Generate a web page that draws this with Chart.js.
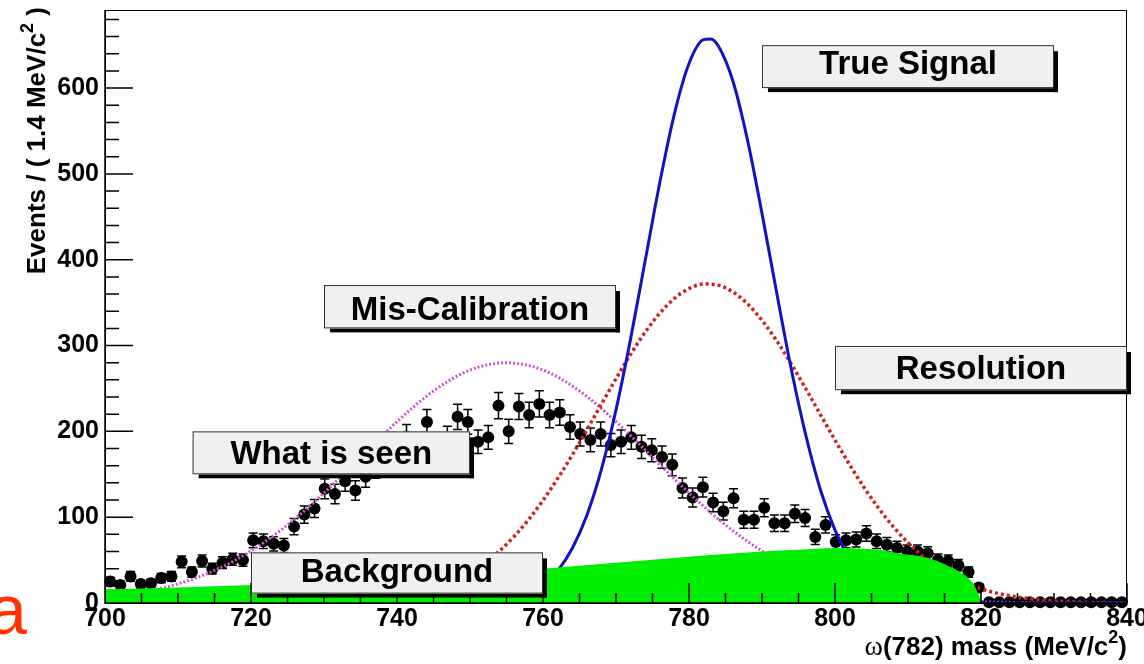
<!DOCTYPE html>
<html>
<head>
<meta charset="utf-8">
<title>ω(782) mass</title>
<script src="https://cdn.jsdelivr.net/npm/chart.js@4.4.1/dist/chart.umd.min.js"></script>
<style>
  html, body { margin: 0; padding: 0; background: #ffffff; }
  canvas { display: block; }
</style>
</head>
<body>
<canvas id="plot" width="1144" height="664"></canvas>
<script>
// ---- binned data: ω(782) candidates, 1.4 MeV bins from 700 to 840 MeV ----
const binCenters = [
  700.7, 702.1, 703.5, 704.9, 706.3, 707.7, 709.1, 710.5, 711.9, 713.3,
  714.7, 716.1, 717.5, 718.9, 720.3, 721.7, 723.1, 724.5, 725.9, 727.3,
  728.7, 730.1, 731.5, 732.9, 734.3, 735.7, 737.1, 738.5, 739.9, 741.3,
  742.7, 744.1, 745.5, 746.9, 748.3, 749.7, 751.1, 752.5, 753.9, 755.3,
  756.7, 758.1, 759.5, 760.9, 762.3, 763.7, 765.1, 766.5, 767.9, 769.3,
  770.7, 772.1, 773.5, 774.9, 776.3, 777.7, 779.1, 780.5, 781.9, 783.3,
  784.7, 786.1, 787.5, 788.9, 790.3, 791.7, 793.1, 794.5, 795.9, 797.3,
  798.7, 800.1, 801.5, 802.9, 804.3, 805.7, 807.1, 808.5, 809.9, 811.3,
  812.7, 814.1, 815.5, 816.9, 818.3, 819.7, 821.1, 822.5, 823.9, 825.3,
  826.7, 828.1, 829.5, 830.9, 832.3, 833.7, 835.1, 836.5, 837.9, 839.3
];
const seenCounts = [
  25, 21, 31, 22, 23, 29, 31, 48, 36, 49,
  40, 47, 51, 50, 73, 72, 69, 67, 89, 103,
  110, 133, 127, 142, 131, 147, 158, 166, 176, 194,
  175, 211, 180, 192, 217, 211, 188, 193, 230, 200,
  229, 219, 232, 219, 222, 205, 197, 190, 197, 184,
  188, 193, 182, 178, 170, 161, 134, 123, 135, 117,
  107, 122, 97, 97, 111, 93, 93, 104, 99, 77,
  91, 71, 73, 74, 81, 72, 68, 64, 60, 60,
  58, 50, 49, 44, 36, 18, 1, 1, 1, 1,
  1, 1, 1, 1, 1, 1, 1, 1, 1, 1
];
const seenErrors = [
  5, 4.6, 5.6, 4.7, 4.8, 5.4, 5.6, 6.9, 6, 7,
  6.3, 6.9, 7.1, 7.1, 8.5, 8.5, 8.3, 8.2, 9.4, 10.1,
  10.5, 11.5, 11.3, 11.9, 11.4, 12.1, 12.6, 12.9, 13.3, 13.9,
  13.2, 14.5, 13.4, 13.9, 14.7, 14.5, 13.7, 13.9, 15.2, 14.1,
  15.1, 14.8, 15.2, 14.8, 14.9, 14.3, 14, 13.8, 14, 13.6,
  13.7, 13.9, 13.5, 13.3, 13, 12.7, 11.6, 11.1, 11.6, 10.8,
  10.3, 11, 9.8, 9.8, 10.5, 9.6, 9.6, 10.2, 9.9, 8.8,
  9.5, 8.4, 8.5, 8.6, 9, 8.5, 8.2, 8, 7.7, 7.7,
  7.6, 7.1, 7, 6.6, 6, 4.2, 0, 0, 0, 0,
  0, 0, 0, 0, 0, 0, 0, 0, 0, 0
];

// ---- model curves ----
const signalMass = [700, 745, 750, 752, 754, 756, 758, 760, 762, 764, 766, 768, 770, 772, 774, 776, 778, 780,
  782, 783, 784, 786, 788, 790, 792, 794, 796, 798, 800, 802, 804, 806, 808, 810, 812, 815, 820, 840];
const signalEvents = [0, 0, 0.5, 1.2, 2.6, 5.5, 11, 20.8, 37.4, 63.5, 102, 155.7, 225, 307.8, 399, 490, 570, 628.6,
  656.4, 657.3, 649.3, 608.5, 540, 454, 362, 273, 195.5, 132, 85, 51.6, 29.7, 16.2, 8.4, 4.1, 1.9, 0.5, 0, 0];

const resolutionMass = [700, 730, 740, 742, 744, 746, 748, 750, 752, 754, 756, 758, 760, 762, 764, 766, 768, 770,
  772, 774, 776, 778, 780, 782, 784, 786, 788, 790, 792, 794, 796, 798, 800, 802, 804, 806, 808, 810,
  812, 814, 816, 818, 820, 822, 824, 826, 828, 830, 834, 838, 840];
const resolutionEvents = [0, 2, 6.6, 9.5, 13.6, 18.9, 26, 35, 46.4, 60.4, 77.2, 96.9, 119.6, 144.9, 172.4, 201.6, 231.6, 261.4,
  289.8, 315.6, 337.7, 354.9, 366.4, 371.7, 370.4, 362.6, 348.7, 329.4, 305.7, 278.7, 249.6, 219.6, 189.8, 161.2, 134.4, 110.2, 88.7, 70.2,
  54.5, 41.6, 31.2, 23, 16.6, 11.8, 8.3, 5.7, 3.8, 2.5, 1, 0.4, 0.3];

const miscalMass = [700, 705, 710, 715, 720, 725, 730, 735, 740, 745, 750, 755, 760, 765, 770, 775, 780,
  785, 790, 795, 800, 805, 810, 815, 820, 825, 830, 835, 840];
const miscalEvents = [6.4, 12.3, 22.3, 37.9, 60.6, 90.9, 128.2, 169.8, 211.3, 247.1, 271.4, 280, 271.4, 247.1, 211.3, 169.8, 128.2,
  90.9, 60.6, 37.9, 22.3, 12.3, 6.4, 3.1, 1.4, 0.6, 0.2, 0.1, 0];

const backgroundMass = [700, 705, 710, 715, 720, 725, 730, 735, 740, 745, 750, 755, 760, 765, 770, 775, 780, 785, 790, 795,
  800, 803, 806, 809, 812, 814, 816, 817.5, 818.5, 819.3, 819.8, 820.2, 830, 840];
const backgroundEvents = [16, 17, 18, 19.5, 21, 23, 25, 27, 29.5, 32, 34.5, 37, 40, 43.5, 47, 50.5, 54, 57, 60, 62,
  64, 63.5, 62, 57.5, 54, 49, 41, 34, 27, 17, 7, 0, 0, 0];

// ---- axis ticks ----
const massTicks = [700, 720, 740, 760, 780, 800, 820, 840];
const eventTicks = [0, 100, 200, 300, 400, 500, 600];

// ---- captions placed in data coordinates ----
const captions = [
  { text: 'True Signal',     x0: 790, x1: 830, y0: 600, y1: 650,   textAt: 630 },
  { text: 'Mis-Calibration', x0: 730, x1: 770, y0: 320, y1: 370.5, textAt: 344 },
  { text: 'Resolution',      x0: 800, x1: 840, y0: 248, y1: 299.5, textAt: 275 },
  { text: 'What is seen',    x0: 712, x1: 750, y0: 150, y1: 200,   textAt: 176 },
  { text: 'Background',      x0: 720, x1: 760, y0: 11,  y1: 59,    textAt: 39 }
];

const SANS = '"Liberation Sans", Arial, Helvetica, sans-serif';
const SERIF = '"Liberation Serif", "Times New Roman", serif';
Chart.defaults.font.family = SANS;

function pairs(xs, ys) { return xs.map((v, i) => ({ x: v, y: ys[i] })); }

function drawRich(ctx, parts, x, y) {
  // right-aligned run of text pieces ending at x, baseline y
  let total = 0;
  parts.forEach(p => { ctx.font = p.font; p.w = ctx.measureText(p.text).width; total += p.w; });
  let cx = x - total;
  ctx.textAlign = 'left';
  ctx.textBaseline = 'alphabetic';
  parts.forEach(p => { ctx.font = p.font; ctx.fillText(p.text, cx, y + (p.dy || 0)); cx += p.w; });
}

const errorBars = {
  id: 'errorBars',
  beforeDatasetDraw(chart, args) {
    if (args.index !== 4) return;
    const { ctx, scales: { x, y } } = chart;
    ctx.save();
    ctx.strokeStyle = '#000';
    ctx.lineWidth = 1.5;
    ctx.beginPath();
    binCenters.forEach((m, i) => {
      const e = seenErrors[i];
      if (!e) return;
      const px = x.getPixelForValue(m);
      const top = y.getPixelForValue(seenCounts[i] + e);
      const bot = y.getPixelForValue(seenCounts[i] - e);
      ctx.moveTo(px, top); ctx.lineTo(px, bot);
      ctx.moveTo(px - 4.5, top); ctx.lineTo(px + 4.5, top);
      ctx.moveTo(px - 4.5, bot); ctx.lineTo(px + 4.5, bot);
    });
    ctx.stroke();
    ctx.restore();
  }
};

const axisFrame = {
  id: 'axisFrame',
  afterDatasetsDraw(chart) {
    const { ctx, chartArea: a, scales: { x, y } } = chart;
    ctx.save();
    ctx.strokeStyle = '#000';
    ctx.lineWidth = 1;
    ctx.strokeRect(a.left + 0.5, a.top + 0.5, a.right - a.left - 1, a.bottom - a.top);
    ctx.lineWidth = 1.5;
    ctx.beginPath();
    ctx.moveTo(a.left, a.top); ctx.lineTo(a.left, a.bottom);
    ctx.lineTo(a.right, a.bottom);
    for (let v = 0; v <= y.max; v += 20) {
      const py = y.getPixelForValue(v);
      const len = v % 100 === 0 ? 28 : 14;
      ctx.moveTo(a.left, py); ctx.lineTo(a.left + len, py);
    }
    for (let m = x.min; m <= x.max; m += 5) {
      const px = x.getPixelForValue(m);
      const len = (m - x.min) % 20 === 0 ? 20 : 10;
      ctx.moveTo(px, a.bottom); ctx.lineTo(px, a.bottom - len);
    }
    ctx.stroke();
    ctx.restore();
  }
};

const captionsAndTitles = {
  id: 'captionsAndTitles',
  afterDraw(chart) {
    const { ctx, chartArea: a, scales: { x, y } } = chart;
    ctx.save();
    // caption panes with drop shadow
    captions.forEach(c => {
      const l = x.getPixelForValue(c.x0), r = x.getPixelForValue(c.x1);
      const t = y.getPixelForValue(c.y1), b = y.getPixelForValue(c.y0);
      ctx.fillStyle = '#000';
      ctx.fillRect(l + 6, b, r - l - 2, 4);
      ctx.fillRect(r, t + 6, 4, b - t - 2);
      ctx.fillStyle = '#f0f0f0';
      ctx.fillRect(l, t, r - l, b - t);
      ctx.strokeStyle = '#333';
      ctx.lineWidth = 1;
      ctx.strokeRect(l + 0.5, t + 0.5, r - l - 1, b - t - 1);
      ctx.fillStyle = '#000';
      ctx.font = 'bold 33px ' + SANS;
      ctx.textAlign = 'center';
      ctx.textBaseline = 'alphabetic';
      ctx.fillText(c.text, (l + r) / 2, y.getPixelForValue(c.textAt) + 12);
    });

    // axis titles
    ctx.fillStyle = '#000';
    const bold = 'bold 26px ' + SANS;
    drawRich(ctx, [
      { text: 'ω', font: '28px ' + SERIF },
      { text: '(782) mass (MeV/c', font: bold },
      { text: '2', font: 'bold 18px ' + SANS, dy: -12 },
      { text: ')', font: bold }
    ], a.right, 655);

    ctx.save();
    ctx.translate(45, 7);
    ctx.rotate(-Math.PI / 2);
    const yb = 'bold 26px ' + SANS;
    drawRich(ctx, [
      { text: 'Events / ( 1.4 MeV/c', font: yb },
      { text: '2', font: 'bold 18px ' + SANS, dy: -12 },
      { text: ' )', font: yb }
    ], 0, 0);
    ctx.restore();

    // panel letter
    ctx.fillStyle = '#ff3300';
    ctx.font = '70px ' + SANS;
    ctx.textAlign = 'right';
    ctx.textBaseline = 'alphabetic';
    ctx.fillText('a', 27, 634);
    ctx.restore();
  }
};

const curve = (color, width, dash) => ({
  showLine: true, pointRadius: 0, borderColor: color, borderWidth: width,
  borderDash: dash, fill: false, cubicInterpolationMode: 'monotone'
});

new Chart(document.getElementById('plot'), {
  type: 'scatter',
  data: {
    datasets: [
      Object.assign({ label: 'Background', data: pairs(backgroundMass, backgroundEvents) },
        curve('rgba(0,0,0,0)', 0, []), { fill: 'origin', backgroundColor: '#00ee00' }),
      Object.assign({ label: 'True Signal', data: pairs(signalMass, signalEvents) }, curve('#1212c4', 3, [])),
      Object.assign({ label: 'Resolution', data: pairs(resolutionMass, resolutionEvents) }, curve('#d41c1c', 3.5, [3, 3])),
      Object.assign({ label: 'Mis-Calibration', data: pairs(miscalMass, miscalEvents) }, curve('#cc55cc', 3, [2, 2])),
      {
        label: 'What is seen', data: pairs(binCenters, seenCounts), showLine: false,
        pointRadius: 6, pointHoverRadius: 6, pointBackgroundColor: '#000', pointBorderWidth: 0, clip: false
      }
    ]
  },
  options: {
    responsive: false,
    animation: false,
    devicePixelRatio: 1,
    layout: { padding: { left: 0, right: 17, top: 10, bottom: 0 } },
    plugins: { legend: { display: false }, tooltip: { enabled: false } },
    scales: {
      x: {
        type: 'linear', min: 700, max: 840,
        grid: { display: false, drawTicks: false },
        border: { display: false },
        ticks: { stepSize: 20, autoSkip: false, maxRotation: 0, padding: 4, color: '#000',
          font: { size: 25, weight: 'bold', lineHeight: 1 } },
        afterBuildTicks(s) { s.ticks = massTicks.map(v => ({ value: v })); },
        afterFit(s) { s.height = 61; s.paddingLeft = 0; s.paddingRight = 0; }
      },
      y: {
        type: 'linear', min: 0, max: 691,
        grid: { display: false, drawTicks: false },
        border: { display: false },
        ticks: { stepSize: 100, padding: 6, color: '#000', font: { size: 25, weight: 'bold', lineHeight: 1 } },
        afterBuildTicks(s) { s.ticks = eventTicks.map(v => ({ value: v })); },
        afterFit(s) { s.width = 105; s.paddingTop = 0; s.paddingBottom = 0; }
      }
    }
  },
  plugins: [errorBars, axisFrame, captionsAndTitles]
});
</script>
</body>
</html>
